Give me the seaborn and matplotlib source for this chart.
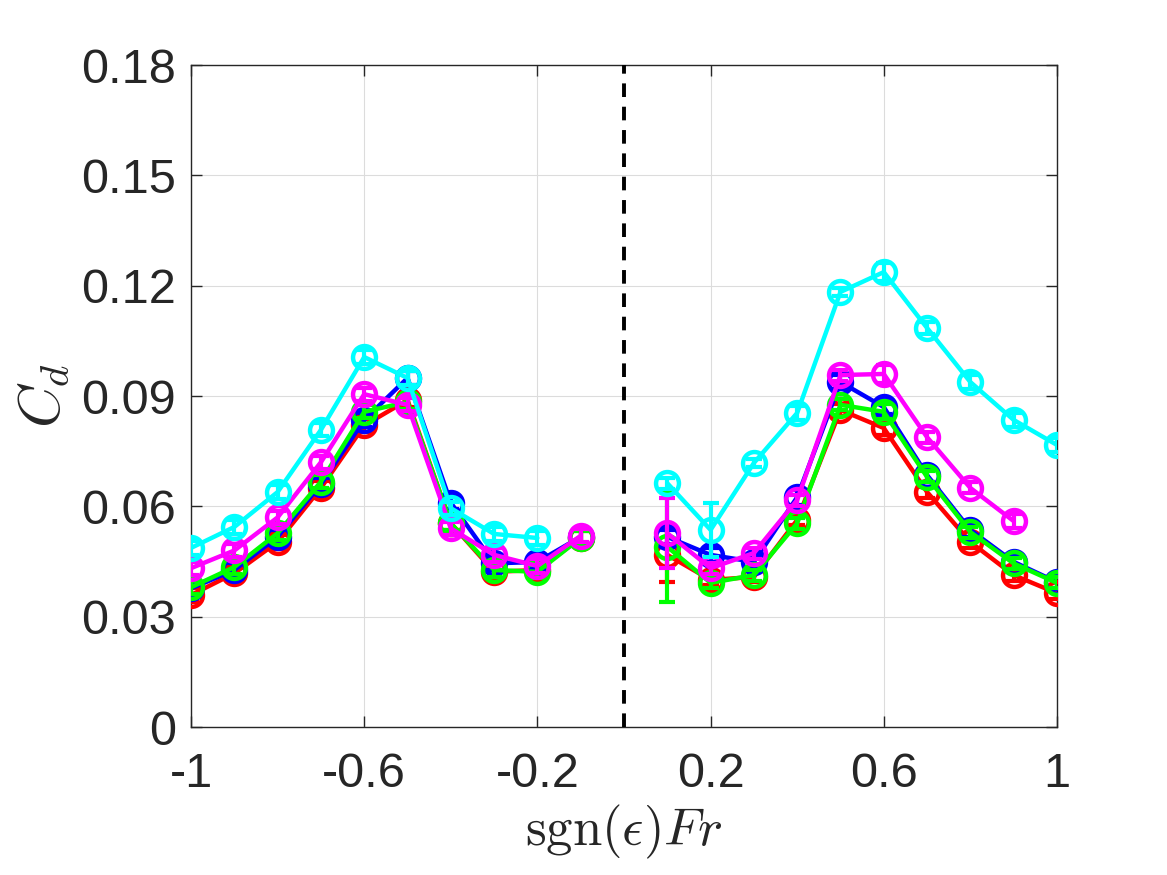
import numpy as np
import pandas as pd
import seaborn as sns
import matplotlib.pyplot as plt

fr_left = [-1.0, -0.9, -0.8, -0.7, -0.6, -0.5, -0.4, -0.3, -0.2, -0.1]
fr_right = [0.1, 0.2, 0.3, 0.4, 0.5, 0.6, 0.7, 0.8, 0.9, 1.0]

series = ["red", "blue", "green", "magenta", "cyan"]

cd_red_left = [0.0359, 0.0418, 0.0503, 0.0650, 0.0820, 0.0889, 0.0554, 0.0422, 0.0427, 0.0514]
cd_red_right = [0.0468, 0.0400, 0.0408, 0.0563, 0.0862, 0.0813, 0.0639, 0.0503, 0.0413, 0.0364]
cd_blue_left = [0.0377, 0.0427, 0.0517, 0.0660, 0.0835, 0.0949, 0.0610, 0.0445, 0.0449, 0.0517]
cd_blue_right = [0.0517, 0.0468, 0.0449, 0.0625, 0.0938, 0.0870, 0.0685, 0.0536, 0.0449, 0.0394]
cd_green_left = [0.0380, 0.0435, 0.0527, 0.0667, 0.0857, 0.0884, 0.0554, 0.0427, 0.0422, 0.0514]
cd_green_right = [0.0490, 0.0392, 0.0413, 0.0554, 0.0876, 0.0857, 0.0680, 0.0530, 0.0445, 0.0392]
cd_magenta_left = [0.0432, 0.0480, 0.0570, 0.0720, 0.0905, 0.0876, 0.0540, 0.0468, 0.0438, 0.0520]
cd_magenta_right = [0.0527, 0.0432, 0.0473, 0.0617, 0.0957, 0.0960, 0.0788, 0.0650, 0.0560, np.nan]
cd_cyan_left = [0.0487, 0.0544, 0.0639, 0.0808, 0.1006, 0.0949, 0.0595, 0.0525, 0.0514, np.nan]
cd_cyan_right = [0.0663, 0.0536, 0.0718, 0.0854, 0.1183, 0.1237, 0.1085, 0.0938, 0.0835, 0.0767]

# error bar half widths (right side; left side uses the default)
err_red_right = [0.0074, 0.0015, 0.0015, 0.0015, 0.0015, 0.0020, 0.0015, 0.0015, 0.0015, 0.0015]
err_blue_right = [0.0018, 0.0018, 0.0018, 0.0020, 0.0018, 0.0020, 0.0018, 0.0018, 0.0018, 0.0018]
err_green_right = [0.0150, 0.0015, 0.0015, 0.0015, 0.0015, 0.0020, 0.0015, 0.0015, 0.0015, 0.0015]
err_magenta_right = [0.0095, 0.0015, 0.0015, 0.0015, 0.0015, 0.0025, 0.0015, 0.0015, 0.0020, 0.0]
err_cyan_right = [0.0015, 0.0073, 0.0012, 0.0020, 0.0010, 0.0025, 0.0015, 0.0020, 0.0020, 0.0020]
err_default = 0.0018

colors = {"red": "#ff0000", "blue": "#0000ff", "green": "#00ff00",
          "magenta": "#ff00ff", "cyan": "#00ffff"}

values = {
    "red": (cd_red_left, cd_red_right, err_red_right),
    "blue": (cd_blue_left, cd_blue_right, err_blue_right),
    "green": (cd_green_left, cd_green_right, err_green_right),
    "magenta": (cd_magenta_left, cd_magenta_right, err_magenta_right),
    "cyan": (cd_cyan_left, cd_cyan_right, err_cyan_right),
}

rows = []
for s in series:
    left, right, err_r = values[s]
    for x, y in zip(fr_left, left):
        rows.append((s, "left", x, y, err_default))
    for x, y, e in zip(fr_right, right, err_r):
        rows.append((s, "right", x, y, e))
df = pd.DataFrame(rows, columns=["series", "side", "fr", "cd", "err"]).dropna()

sns.set_style("white")
plt.rcParams["mathtext.fontset"] = "cm"
plt.rcParams["font.family"] = ["Liberation Sans", "DejaVu Sans"]

fig = plt.figure(figsize=(11.67, 8.75), dpi=100)
ax = fig.add_axes([0.1637, 0.1691, 0.742, 0.7566])

for s in series:
    d = df[df["series"] == s]
    sns.lineplot(data=d, x="fr", y="cd", units="side", estimator=None,
                 color=colors[s], marker="o", markersize=16.5, mfc="none",
                 mec=colors[s], mew=3.2, linewidth=3.2, ax=ax, zorder=3)
    ax.errorbar(d["fr"], d["cd"], yerr=d["err"], fmt="none", ecolor=colors[s],
                elinewidth=3, capsize=5.5, capthick=3, zorder=3)

ax.axvline(0, color="black", linestyle=(0, (3.5, 2.5)), linewidth=2.8, zorder=4)

ax.set_xlim(-1, 1)
ax.set_ylim(0, 0.18)
ax.set_xticks([-1, -0.6, -0.2, 0.2, 0.6, 1])
ax.set_xticklabels(["-1", "-0.6", "-0.2", "0.2", "0.6", "1"])
ax.set_yticks([0, 0.03, 0.06, 0.09, 0.12, 0.15, 0.18])
ax.set_yticklabels(["0", "0.03", "0.06", "0.09", "0.12", "0.15", "0.18"])
ax.grid(True, color="#dcdcdc", linewidth=0.8)
ax.tick_params(direction="in", length=8, width=1, labelsize=35, labelcolor="#262626",
               top=True, right=True, left=True, bottom=True)
ax.tick_params(axis="x", pad=18)
ax.tick_params(axis="y", pad=11)
for sp in ax.spines.values():
    sp.set_color("#262626")
    sp.set_linewidth(1)
ax.set_xlabel(r"$\mathrm{sgn}(\epsilon)Fr$", fontsize=38, color="#262626", labelpad=4)
ax.set_ylabel(r"$C_d$", fontsize=42, color="#262626", labelpad=6)

fig.savefig("out.png", dpi=100)
